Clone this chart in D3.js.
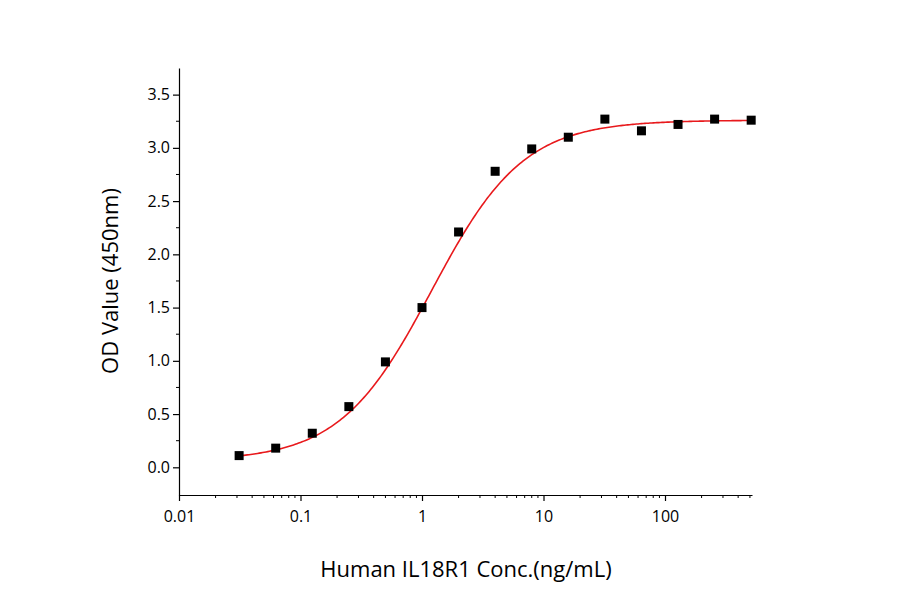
<!DOCTYPE html>
<html><head><meta charset="utf-8">
<script src="https://cdn.jsdelivr.net/npm/d3@7"></script>
<style>body{margin:0;background:#fff}text{font-family:"Open Sans",sans-serif}</style>
</head><body>
<svg id="chart" width="900" height="594"></svg>
<script>
const conc = [0.03125, 0.0625, 0.125, 0.25, 0.5, 1, 2, 4, 8, 16, 32, 64, 128, 256, 512]
const od = [0.11, 0.18, 0.32, 0.57, 0.99, 1.5, 2.21, 2.78, 2.99, 3.10, 3.27, 3.16, 3.22, 3.27, 3.26]
// 4-parameter logistic fit: bottom, top, ec50, hill
const fit = [0.06, 3.26, 1.2, 1.15]
const xTicks = [0.01, 0.1, 1, 10, 100]
const yTicks = [0, 0.5, 1, 1.5, 2, 2.5, 3, 3.5]

const svg = d3.select('#chart')
const x = d3.scaleLog().domain([0.01, 520]).range([179, 752])
const y = d3.scaleLinear().domain([-0.26, 3.75]).range([495, 68])

const xAxis = svg.append('g').attr('transform', 'translate(0,495)')
  .call(d3.axisBottom(x).tickValues(xTicks).tickFormat(d => d).tickSize(6).tickSizeOuter(0))
xAxis.selectAll('text').attr('font-size', 16).attr('dy', '1.1em')
const yAxis = svg.append('g').attr('transform', 'translate(179,0)')
  .call(d3.axisLeft(y).tickValues(yTicks).tickFormat(d3.format('.1f')).tickSize(6).tickSizeOuter(0))
yAxis.selectAll('text').attr('font-size', 16)
svg.selectAll('.domain, .tick line').attr('stroke', '#000').attr('stroke-width', 1.2)

// minor ticks
const yMinor = yTicks.slice(0, -1).map(d => d + 0.25)
svg.selectAll('.ym').data(yMinor).enter().append('line')
  .attr('x1', 179).attr('x2', 176).attr('y1', d => y(d)).attr('y2', d => y(d)).attr('stroke', '#000')
const xMinor = []
xTicks.forEach(t => { for (let k = 2; k < 10; k++) if (t * k <= 520) xMinor.push(t * k) })
svg.selectAll('.xm').data(xMinor).enter().append('line')
  .attr('y1', 495).attr('y2', 498).attr('x1', d => x(d)).attr('x2', d => x(d)).attr('stroke', '#000')

const curve = d3.range(0, 301).map(i => Math.pow(10, Math.log10(0.03) + i / 300 * (Math.log10(512) - Math.log10(0.03))))
const [b, t, c, h] = fit
svg.append('path').datum(curve)
  .attr('fill', 'none').attr('stroke', '#e8191c').attr('stroke-width', 1.6)
  .attr('d', d3.line().x(d => x(d)).y(d => y(b + (t - b) / (1 + Math.pow(c / d, h)))))

svg.selectAll('.pt').data(conc).enter().append('rect')
  .attr('x', d => x(d) - 4.5).attr('y', (d, i) => y(od[i]) - 4.5)
  .attr('width', 9).attr('height', 9).attr('fill', '#000')

svg.append('text').attr('x', 466).attr('y', 577).attr('text-anchor', 'middle')
  .attr('font-size', 22).text('Human IL18R1 Conc.(ng/mL)')
svg.append('text').attr('transform', 'translate(118,281) rotate(-90)').attr('text-anchor', 'middle')
  .attr('font-size', 22).text('OD Value (450nm)')
</script>
</body></html>
